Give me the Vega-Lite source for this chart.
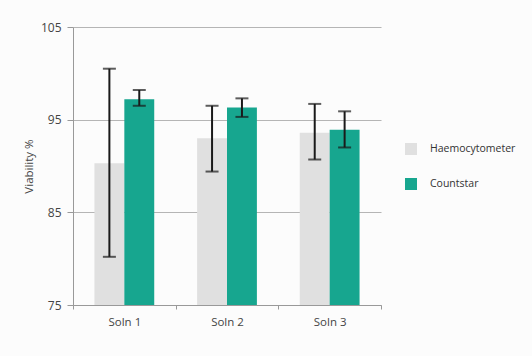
{
  "$schema": "https://vega.github.io/schema/vega-lite/v6.json",
  "width": 308,
  "height": 278,
  "autosize": {"type": "none"},
  "padding": {"left": 73, "top": 27, "right": 151, "bottom": 51},
  "background": "#fcfcfc",
  "config": {"font": "Open Sans", "view": {"stroke": null}},
  "data": {
    "values": [
      {"soln": "Soln 1", "method": "Haemocytometer", "value": 90.3, "lo": 80.2, "hi": 100.5},
      {"soln": "Soln 1", "method": "Countstar", "value": 97.2, "lo": 96.5, "hi": 98.2},
      {"soln": "Soln 2", "method": "Haemocytometer", "value": 93.0, "lo": 89.4, "hi": 96.5},
      {"soln": "Soln 2", "method": "Countstar", "value": 96.3, "lo": 95.3, "hi": 97.3},
      {"soln": "Soln 3", "method": "Haemocytometer", "value": 93.6, "lo": 90.7, "hi": 96.7},
      {"soln": "Soln 3", "method": "Countstar", "value": 93.9, "lo": 92.0, "hi": 95.9}
    ]
  },
  "encoding": {
    "x": {
      "field": "soln",
      "type": "nominal",
      "scale": {"paddingInner": 0, "paddingOuter": 0},
      "axis": {
        "title": null,
        "labelAngle": 0,
        "tickBand": "extent",
        "tickSize": 4,
        "tickColor": "#999999",
        "domainColor": "#999999",
        "labelPadding": 7,
        "labelFontSize": 11.5,
        "labelColor": "#444444",
        "grid": false
      }
    },
    "xOffset": {
      "field": "method",
      "type": "nominal",
      "scale": {"domain": ["Haemocytometer", "Countstar"], "paddingInner": 0, "paddingOuter": 0.717}
    }
  },
  "layer": [
    {
      "mark": {"type": "bar"},
      "encoding": {
        "y": {
          "field": "value",
          "type": "quantitative",
          "scale": {"domain": [75, 105], "zero": false, "nice": false},
          "axis": {
            "values": [75, 85, 95, 105],
            "grid": true,
            "gridColor": "#b5b5b5",
            "domainColor": "#999999",
            "tickColor": "#999999",
            "tickSize": 6,
            "labelPadding": 6,
            "labelFontSize": 12,
            "labelColor": "#444444",
            "title": "Viability %",
            "titleFontWeight": "normal",
            "titleFontSize": 11.5,
            "titleColor": "#444444",
            "titlePadding": 6
          }
        },
        "y2": {"datum": 75},
        "color": {
          "field": "method",
          "type": "nominal",
          "scale": {"domain": ["Haemocytometer", "Countstar"], "range": ["#e0e0e0", "#17a68f"]},
          "legend": {
            "title": null,
            "orient": "none",
            "legendX": 332,
            "legendY": 116,
            "symbolType": "square",
            "symbolSize": 144,
            "symbolStrokeWidth": 0,
            "labelFontSize": 10.5,
            "labelColor": "#333333",
            "labelOffset": 13,
            "rowPadding": 23,
            "padding": 0
          }
        }
      }
    },
    {
      "mark": {"type": "rule", "color": "#1a1a1a", "strokeWidth": 2},
      "encoding": {
        "y": {"field": "lo", "type": "quantitative"},
        "y2": {"field": "hi"}
      }
    },
    {
      "mark": {"type": "tick", "color": "#1a1a1a", "thickness": 2, "size": 13},
      "encoding": {"y": {"field": "lo", "type": "quantitative"}}
    },
    {
      "mark": {"type": "tick", "color": "#1a1a1a", "thickness": 2, "size": 13},
      "encoding": {"y": {"field": "hi", "type": "quantitative"}}
    }
  ]
}
